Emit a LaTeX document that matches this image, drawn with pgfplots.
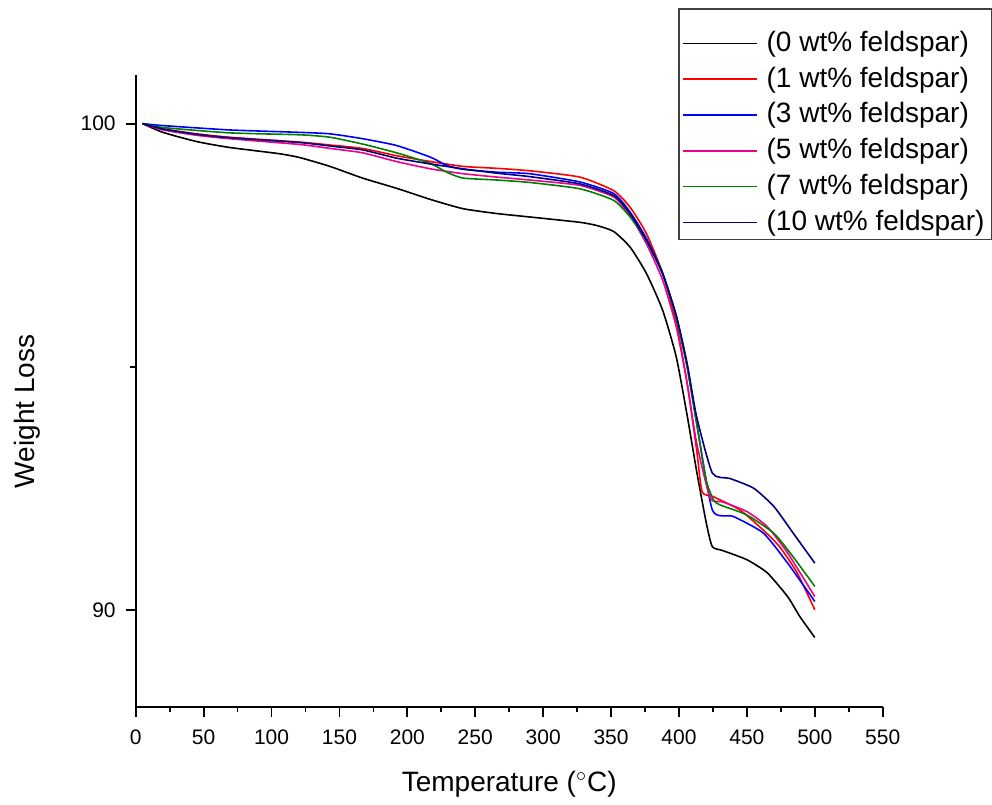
\documentclass[border=0pt]{standalone}
\usepackage{fontspec}
\setmainfont{Liberation Sans}
\usepackage{pgfplots}
\pgfplotsset{compat=1.18}
\definecolor{cgreen}{RGB}{0,128,0}
\definecolor{cnavy}{RGB}{0,0,128}
\begin{document}
\begin{tikzpicture}
\begin{axis}[
  scale only axis, width=373.5pt, height=316pt,
  xmin=0, xmax=550, ymin=88, ymax=101,
  axis lines*=left, axis line style={-, line width=1pt},
  xtick={0,50,...,550}, minor x tick num=1,
  ytick={90,100}, minor ytick={95},
  tick align=outside, major tick length=5pt, minor tick length=2.7pt,
  tick style={black, line width=0.9pt},
  tick label style={font=\fontsize{10.5}{12}\selectfont},
  /pgf/number format/assume math mode=true,
  xticklabel style={yshift=-3pt}, yticklabel style={xshift=-1.5pt},
  xlabel={Temperature ($^{\circ}$C)}, ylabel={Weight Loss},
  every axis x label/.style={at={([yshift=-42.3pt]axis description cs:0.5,0)}, anchor=base, font=\fontsize{14}{16}\selectfont},
  every axis y label/.style={at={([xshift=-50.6pt]axis description cs:0,0.468)}, anchor=base, rotate=90, font=\fontsize{14}{16}\selectfont},
  clip=false, no markers,
  legend style={at={(axis description cs:1.1459,1.1055)}, anchor=north east,
    draw=black!75, line width=0.6pt, fill=white,
    font=\fontsize{14}{16}\selectfont, inner xsep=1.8pt, inner ysep=0pt,
    row sep=0.9pt, column sep=2.7pt,
    nodes={inner sep=1.5pt, text height=11pt, text depth=3pt}},
  legend cell align=left,
  legend image code/.code={\path (-7pt,0pt) -- (0pt,0pt); \draw[#1] (0pt,0pt) -- (30pt,0pt);},
  every axis plot/.append style={smooth, tension=0.35},
]
\path (axis description cs:-0.1817,-0.144) rectangle (axis description cs:1.1463,1.1187);
\addlegendimage{empty legend}
\addlegendentry[text height=4.8pt, text depth=0pt]{}

\addplot[black, line width=0.8pt] coordinates {
(5,100) (20,99.82) (45,99.63) (69,99.51) (106,99.38) (121,99.30) (143,99.12) (167,98.88)
(192,98.67) (217,98.44) (241,98.25) (266,98.15) (290,98.08) (327,97.97) (340,97.90)
(352,97.78) (364,97.46) (376,96.92) (388,96.16) (398,95.2) (406,94.0) (413,92.85)
(420,91.8) (424.5,91.3) (432,91.22) (450,91.03) (465,90.76) (480,90.27) (489,89.86) (500,89.43)};
\addlegendentry{(0 wt\% feldspar)}

\addplot[red, line width=0.8pt] coordinates {
(5,100) (20,99.89) (45,99.79) (69,99.72) (121,99.62) (143,99.56) (167,99.49) (192,99.34)
(217,99.22) (241,99.12) (266,99.08) (290,99.03) (327,98.9) (352,98.62) (364,98.28)
(376,97.74) (388,96.92) (398,95.9) (406,94.66) (413,93.29) (417,92.43) (425,92.33)
(445,92.05) (462,91.64) (474,91.3) (487,90.76) (500,90.0)};
\addlegendentry{(1 wt\% feldspar)}

\addplot[blue, line width=0.8pt] coordinates {
(5,100) (20,99.96) (69,99.87) (121,99.82) (143,99.79) (167,99.69) (192,99.55) (217,99.31)
(229,99.14) (241,99.06) (266,99.0) (290,98.97) (327,98.8) (352,98.56) (364,98.18)
(376,97.64) (388,96.92) (398,96.02) (406,95.0) (413,93.84) (424.6,92.05) (440,91.92)
(462,91.58) (480,90.96) (500,90.17)};
\addlegendentry{(3 wt\% feldspar)}

\addplot[magenta, line width=0.8pt] coordinates {
(5,100) (20,99.87) (45,99.76) (69,99.69) (121,99.57) (143,99.49) (167,99.40) (192,99.22)
(217,99.07) (241,98.97) (266,98.9) (290,98.84) (327,98.73) (352,98.49) (364,98.11)
(376,97.53) (388,96.78) (398,95.82) (406,94.66) (413,93.43) (423,92.3) (432,92.22)
(450,92.02) (465,91.71) (480,91.17) (500,90.27)};
\addlegendentry{(5 wt\% feldspar)}

\addplot[cgreen, line width=0.8pt] coordinates {
(5,100) (20,99.92) (69,99.81) (121,99.77) (143,99.72) (167,99.58) (192,99.40) (217,99.18)
(229,99.0) (241,98.88) (266,98.84) (290,98.79) (327,98.66) (352,98.42) (364,98.08)
(376,97.6) (388,96.91) (398,96.02) (406,95.0) (413,93.84) (420,92.67) (425.4,92.26)
(430,92.16) (450,91.95) (470,91.57) (484,91.09) (500,90.48)};
\addlegendentry{(7 wt\% feldspar)}

\addplot[cnavy, line width=0.8pt] coordinates {
(5,100) (20,99.89) (45,99.78) (69,99.71) (121,99.61) (143,99.54) (167,99.46) (192,99.29)
(217,99.17) (241,99.07) (266,98.98) (290,98.91) (327,98.76) (352,98.52) (364,98.15)
(376,97.6) (388,96.91) (398,96.06) (406,95.07) (413,93.97) (424.6,92.81) (437.6,92.7)
(455,92.5) (470,92.12) (484,91.58) (500,90.96)};
\addlegendentry{(10 wt\% feldspar)}
\end{axis}
\end{tikzpicture}
\end{document}
